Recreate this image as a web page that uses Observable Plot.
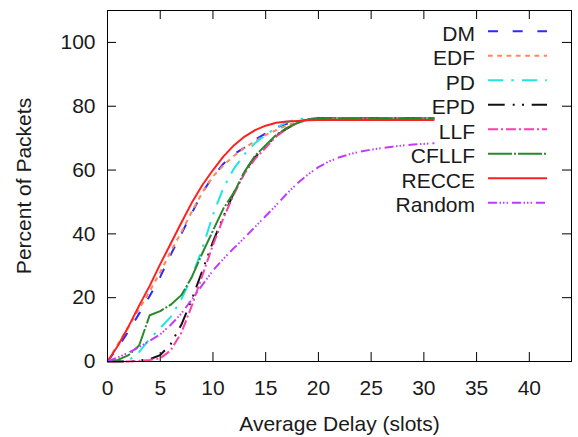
<!DOCTYPE html>
<html><head><meta charset="utf-8">
<script src="https://cdn.jsdelivr.net/npm/d3@7"></script>
<script src="https://cdn.jsdelivr.net/npm/@observablehq/plot@0.6"></script>
<style>
html,body{margin:0;padding:0;background:#fff;}
#chart{width:578px;height:437px;}
</style>
</head><body><div id="chart"></div>
<script>
// ---- data ----
const delay = [0,1,2,3,4,5,6,7,8,9,10,11,12,13,14,15,16,17,18,19,20,21,22,23,24,25,26,27,28,29,30,31];
const dm     = [0,4.5,9.5,15,20.5,26.5,33.5,40,46.5,53,58,62,65,67,69.5,71.5,73.3,74.5,75.3,75.8,76.1,76.2,76.2,76.2,76.2,76.2,76.2,76.2,76.2,76.2,76.2,76.2];
const edf    = [0,5.5,11,16.5,22,28,34.5,40.5,47,53,58,61.5,64.5,67,69,71,72.5,74,75,75.7,76.1,76.2,76.2,76.2,76.2,76.2,76.2,76.2,76.2,76.2,76.2,76.2];
const pd     = [0,0,0.3,3,7,10.5,14,19.5,26.5,35.5,46,54.5,60.5,65,68.5,71,73.3,75,76,76.2,76.2,76.2,76.2,76.2,76.2,76.2,76.2,76.2,76.2,76.2,76.2,76.2];
const epd    = [0,0,0,0.3,0.7,2,5.5,11.5,19.5,28.5,37.5,45.5,53,59.5,64,67.5,70.8,73,74.8,75.8,76.2,76.2,76.2,76.2,76.2,76.2,76.2,76.2,76.2,76.2,76.2,76.2];
const llf    = [0,0,0,0.2,0.5,1,3.5,9,17.5,27,36.5,45,52.5,59,63.5,67,70.5,73,74.7,75.8,76.2,76.2,76.2,76.2,76.2,76.2,76.2,76.2,76.2,76.2,76.2,76.2];
const cfllf  = [0,0.5,2,5,14.5,15.8,17.8,20.8,26.5,34,41,48,53,59.5,64.5,67.8,71,73.2,74.8,75.8,76.2,76.2,76.2,76.2,76.2,76.2,76.2,76.2,76.2,76.2,76.2,76.2];
const recce  = [0,5,11,17.5,23.7,30.5,37,43.5,49.8,55.3,60,64.3,67.8,70.5,72.5,73.9,74.8,75.2,75.4,75.6,75.7,75.7,75.7,75.7,75.7,75.7,75.7,75.7,75.7,75.7,75.7,75.7];
const random = [0,1.3,2.8,4.5,6.5,8.5,11.5,15,19.5,24,28.5,32.2,35.6,38.8,42.2,45.6,49,52.6,55.8,58.6,60.9,62.7,64,65,65.8,66.4,66.9,67.3,67.7,68,68.2,68.4];
const seriesNames = ["DM","EDF","PD","EPD","LLF","CFLLF","RECCE","Random"];
const seriesValues = [dm, edf, pd, epd, llf, cfllf, recce, random];
const xTicks = [0,5,10,15,20,25,30,35,40];
const yTicks = [0,20,40,60,80,100];
const xLabel = "Average Delay (slots)";
const yLabel = "Percent of Packets";

// ---- styles ----
const colors = ["#2a2aff","#ff8659","#1ee6e6","#111111","#ff3fa4","#2a882a","#ff2020","#bf3cff"];
const dashes = ["10,14.7","4.7,4.6","15.3,8,2.5,8.2","16.7,8,2,7.3,2,7.7","10,3,2,3","24,2,2,2","none","9,2.5,1.5,2,1.5,2,1.5,4"];

const W = 578, H = 437, mL = 107, mR = 7, mT = 10, mB = 76;
const plotW = W - mL - mR, plotH = H - mT - mB;
const font = "'Liberation Sans', Arial, sans-serif";
const fs = 21;
const tickLen = 9;

const rows = seriesNames.flatMap((name, k) => seriesValues[k].map((v, i) => ({name, x: delay[i], y: v})));

const chart = Plot.plot({
  width: W, height: H,
  marginLeft: mL, marginRight: mR, marginTop: mT, marginBottom: mB,
  style: {fontFamily: font, fontSize: fs + "px", color: "#1a1a1a", background: "#fff"},
  x: {domain: [0, 44]},
  y: {domain: [0, 110]},
  marks: [
    Plot.tickX(xTicks, {x: d => d, insetTop: plotH - tickLen, stroke: "#000"}),
    Plot.tickX(xTicks, {x: d => d, insetBottom: plotH - tickLen, stroke: "#000"}),
    Plot.tickY(yTicks, {y: d => d, insetRight: plotW - tickLen, stroke: "#000"}),
    Plot.tickY(yTicks, {y: d => d, insetLeft: plotW - tickLen, stroke: "#000"}),
    Plot.axisX({ticks: xTicks, tickSize: 0, tickPadding: 19, label: null, fontSize: fs}),
    Plot.axisY({ticks: yTicks, tickSize: 0, tickPadding: 12, label: null, fontSize: fs}),
    Plot.text([xLabel], {frameAnchor: "bottom", dy: 55, lineAnchor: "top", textAnchor: "middle", fontSize: fs}),
    Plot.text([yLabel], {frameAnchor: "left", dx: -83, rotate: -90, textAnchor: "middle", lineAnchor: "middle", fontSize: fs}),
    ...seriesNames.map((name, k) => Plot.line(rows.filter(r => r.name === name), {
      x: "x", y: "y", stroke: colors[k], strokeWidth: 2,
      strokeDasharray: dashes[k], strokeLinecap: "butt", strokeLinejoin: "round", curve: "linear"
    })),
    Plot.frame({stroke: "#000", strokeWidth: 1})
  ]
});

// legend inside the plot area (top-right)
const svg = d3.select(chart);
const lg = svg.append("g").attr("font-family", font).attr("font-size", fs + "px");
const right = W - mR;
seriesNames.forEach((name, k) => {
  const base = mT + 30.8 + 24.5 * k;
  lg.append("text").attr("x", right - 96).attr("y", base).attr("text-anchor", "end")
    .attr("fill", "#1a1a1a").text(name);
  lg.append("line").attr("x1", right - 83).attr("x2", right - 24)
    .attr("y1", base - 9.5).attr("y2", base - 9.5)
    .attr("stroke", colors[k]).attr("stroke-width", 2)
    .attr("stroke-dasharray", dashes[k]).attr("stroke-linecap", "butt");
});

document.getElementById("chart").appendChild(chart);
</script>
</body></html>
